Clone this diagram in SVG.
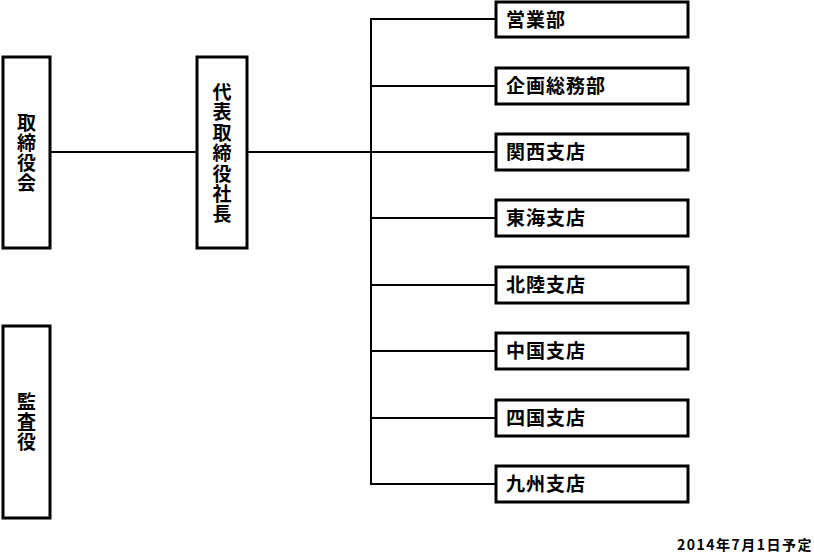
<svg xmlns="http://www.w3.org/2000/svg" width="814" height="553" viewBox="0 0 814 553">
<style>
.box{fill:#fff;stroke:#000;stroke-width:3}
.lbl{font-family:"Noto Sans CJK JP","Liberation Sans",sans-serif;font-weight:bold;font-size:19px;fill:#000}
.hl{letter-spacing:1px}
.vl{text-anchor:middle}
.con{stroke:#000;stroke-width:2;fill:none}
.note{font-family:"Noto Sans CJK JP","Liberation Sans",sans-serif;font-weight:bold;font-size:14px;letter-spacing:1.5px;fill:#000;text-anchor:end}
</style>
<rect width="814" height="553" fill="#fff"/>
<g id="connectors">
<line class="con" x1="50" y1="152" x2="197" y2="152"/>
<line class="con" x1="247" y1="152" x2="371" y2="152"/>
<line class="con" x1="371" y1="19" x2="371" y2="484"/>
<line class="con" x1="370" y1="19" x2="496" y2="19"/>
<line class="con" x1="371" y1="86" x2="496" y2="86"/>
<line class="con" x1="371" y1="152" x2="496" y2="152"/>
<line class="con" x1="371" y1="218" x2="496" y2="218"/>
<line class="con" x1="371" y1="285" x2="496" y2="285"/>
<line class="con" x1="371" y1="351" x2="496" y2="351"/>
<line class="con" x1="371" y1="418" x2="496" y2="418"/>
<line class="con" x1="370" y1="484" x2="496" y2="484"/>
</g>
<g id="board">
<rect class="box" x="3" y="57" width="47" height="191"/>
<text class="lbl vl"><tspan x="26.5" y="130">取</tspan><tspan x="26.5" y="150">締</tspan><tspan x="26.5" y="170">役</tspan><tspan x="26.5" y="190">会</tspan></text>
</g>
<g id="president">
<rect class="box" x="197" y="57" width="50" height="191"/>
<text class="lbl vl"><tspan x="222" y="99">代</tspan><tspan x="222" y="119.4">表</tspan><tspan x="222" y="139.8">取</tspan><tspan x="222" y="160.2">締</tspan><tspan x="222" y="180.6">役</tspan><tspan x="222" y="201">社</tspan><tspan x="222" y="221.4">長</tspan></text>
</g>
<g id="auditor">
<rect class="box" x="3" y="326" width="47" height="192"/>
<text class="lbl vl"><tspan x="26.5" y="409">監</tspan><tspan x="26.5" y="429">査</tspan><tspan x="26.5" y="449">役</tspan></text>
</g>
<g id="sales">
<rect class="box" x="496" y="2" width="192" height="35"/>
<text class="lbl hl" x="506" y="27">営業部</text>
</g>
<g id="planning">
<rect class="box" x="496" y="68" width="192" height="36"/>
<text class="lbl hl" x="506" y="93">企画総務部</text>
</g>
<g id="kansai">
<rect class="box" x="496" y="134" width="192" height="36"/>
<text class="lbl hl" x="506" y="159">関西支店</text>
</g>
<g id="tokai">
<rect class="box" x="496" y="200" width="192" height="36"/>
<text class="lbl hl" x="506" y="225">東海支店</text>
</g>
<g id="hokuriku">
<rect class="box" x="496" y="267" width="192" height="36"/>
<text class="lbl hl" x="506" y="292">北陸支店</text>
</g>
<g id="chugoku">
<rect class="box" x="496" y="333" width="192" height="36"/>
<text class="lbl hl" x="506" y="358">中国支店</text>
</g>
<g id="shikoku">
<rect class="box" x="496" y="400" width="192" height="36"/>
<text class="lbl hl" x="506" y="425">四国支店</text>
</g>
<g id="kyushu">
<rect class="box" x="496" y="466" width="192" height="36"/>
<text class="lbl hl" x="506" y="491">九州支店</text>
</g>
<text class="note" x="813" y="550">2014年7月1日予定</text>
</svg>
